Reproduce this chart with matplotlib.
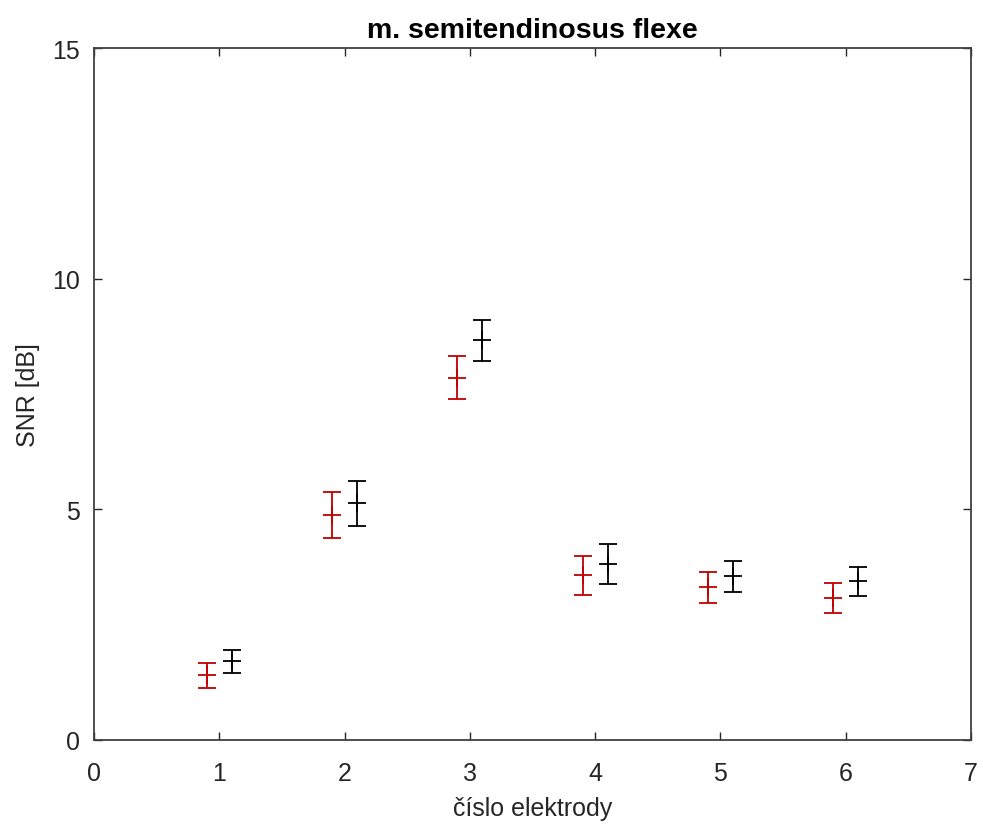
import numpy as np
import matplotlib
matplotlib.use("Agg")
import matplotlib.pyplot as plt

# elektrody, dva soubory mereni (cervena a cerna), posunute o 0.1
elektrody = np.array([1, 2, 3, 4, 5, 6])
snr_red = [1.40, 4.88, 7.86, 3.57, 3.31, 3.08]
err_red = [0.28, 0.49, 0.46, 0.43, 0.33, 0.32]
snr_black = [1.71, 5.13, 8.67, 3.82, 3.55, 3.44]
err_black = [0.25, 0.49, 0.45, 0.43, 0.33, 0.32]

plt.rcParams['font.family'] = ['Liberation Sans', 'DejaVu Sans']
txt = '#262626'

fig = plt.figure(figsize=(9.83, 8.29), dpi=100)
ax = fig.add_axes([0.0956, 0.1062, 0.8922, 0.8341])

ax.errorbar(elektrody - 0.1, snr_red, yerr=err_red, fmt='+', color='#c00000',
            ecolor='#c00000', elinewidth=1.3, capsize=6.5, capthick=1.3,
            markersize=13, markeredgewidth=1.3)
ax.errorbar(elektrody + 0.1, snr_black, yerr=err_black, fmt='+', color='black',
            ecolor='black', elinewidth=1.3, capsize=6.5, capthick=1.3,
            markersize=13, markeredgewidth=1.3)

ax.set_xlim(0, 7)
ax.set_ylim(0, 15)
ax.set_xticks(range(0, 8))
ax.set_yticks([0, 5, 10, 15])
ax.tick_params(direction='in', top=True, right=True, length=6, width=1,
               labelsize=18, colors=txt)
ax.tick_params(axis='x', pad=15)
ax.tick_params(axis='y', pad=10)
for s in ax.spines.values():
    s.set_color('#404040')
    s.set_linewidth(1.3)

ax.set_title('m. semitendinosus flexe', fontsize=20.5, fontweight='bold', color='black', pad=8)
ax.set_xlabel('číslo elektrody', fontsize=18, color=txt, labelpad=8)
ax.set_ylabel('SNR [dB]', fontsize=18, color=txt, labelpad=9)

fig.savefig('out.png', dpi=100)
